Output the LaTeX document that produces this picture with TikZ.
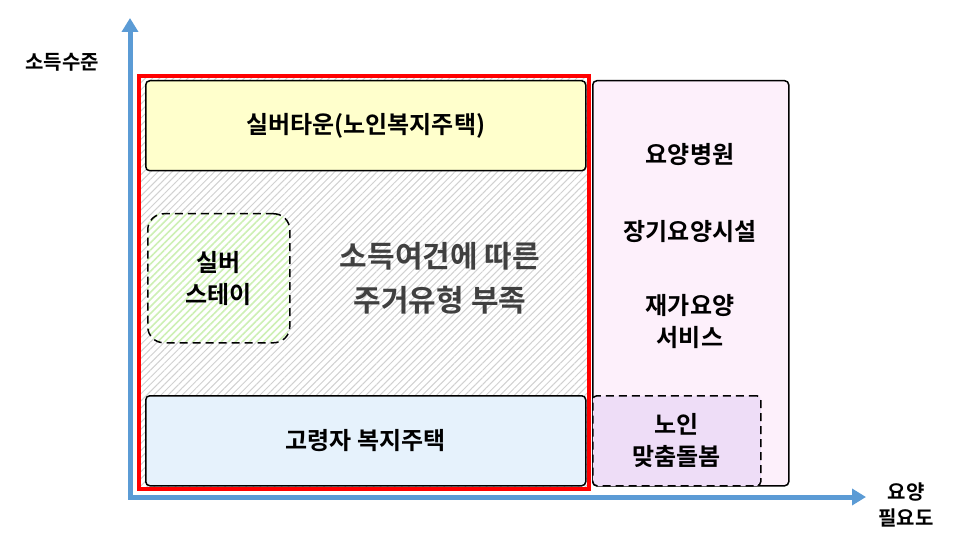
\documentclass[tikz,border=0pt]{standalone}
\usepackage{fontspec}
\setmainfont{Noto Sans CJK KR}[BoldFont={Noto Sans CJK KR Bold}]
\usetikzlibrary{patterns.meta,arrows.meta}
\begin{document}
\begin{tikzpicture}[x=1pt,y=-1pt,
  ax/.style={draw={rgb,255:red,91;green,155;blue,213},line width=5pt,-{Triangle[length=14pt,width=16pt]}},
  box/.style={draw=black,line width=1.5pt,rounded corners=4pt},
  lbl/.style={font=\bfseries\fontsize{24}{32}\selectfont,align=center},
  axl/.style={font=\bfseries\fontsize{20}{26}\selectfont,align=center}]
\useasboundingbox (0,0) rectangle (966,556);
\fill[white] (0,0) rectangle (966,556);
% hatched region
\fill[pattern={Lines[angle=45,distance=5pt,line width=1pt]},pattern color=black!18] (141,78) rectangle (588,488);
% pink box
\node[box,fill={rgb,255:red,253;green,240;blue,251},minimum width=196pt,minimum height=405pt,anchor=north west] (pink) at (592,80) {};
\node[lbl] (t1) at (690,155) {요양병원};
\node[lbl] (t2) at (690,232) {장기요양시설};
\node[lbl] (t3) at (690,322) {재가요양\\서비스};
\node[box,dashed,dash pattern=on 8pt off 5pt,fill={rgb,255:red,238;green,221;blue,247},minimum width=168pt,minimum height=90pt,anchor=north west] (cust) at (592,395) {};
\node[lbl] at (cust.center) {노인\\맞춤돌봄};
% yellow
\node[box,fill={rgb,255:red,255;green,255;blue,204},minimum width=440pt,minimum height=90pt,anchor=north west] (yel) at (145,80) {};
\node[lbl] at (yel.center) {실버타운(노인복지주택)};
% blue
\node[box,fill={rgb,255:red,230;green,242;blue,252},minimum width=440pt,minimum height=90pt,anchor=north west] (blu) at (145,395) {};
\node[lbl] at (blu.center) {고령자 복지주택};
% silver stay
\fill[white,rounded corners=16pt] (147,213) rectangle (289,342);
\fill[pattern={Lines[angle=45,distance=5pt,line width=1.6pt]},pattern color={rgb,255:red,205;green,240;blue,180},rounded corners=16pt] (147,213) rectangle (289,342);
\node[draw=black,dashed,dash pattern=on 8pt off 5pt,line width=1.5pt,rounded corners=16pt,minimum width=142pt,minimum height=129pt,anchor=north west] (ss) at (147,213) {};
\node[lbl] at (ss.center) {실버\\스테이};
% center text
\node[font=\bfseries\fontsize{30}{44}\selectfont,align=center,text=black!75] (ct) at (440,278) {소득여건에 따른\\주거유형 부족};
% red frame
\draw[red,line width=4pt] (139,76) rectangle (589,489);
% axes
\coordinate (o) at (130,497);
\coordinate (ytop) at (130,18);
\coordinate (xend) at (866,497);
\draw[ax] (130,499.5) -- (ytop);
\draw[ax] (o) -- (xend);
\node[axl] (yl) at (62,62) {소득수준};
\node[axl] (xl) at (906,505) {요양\\필요도};
\end{tikzpicture}
\end{document}
